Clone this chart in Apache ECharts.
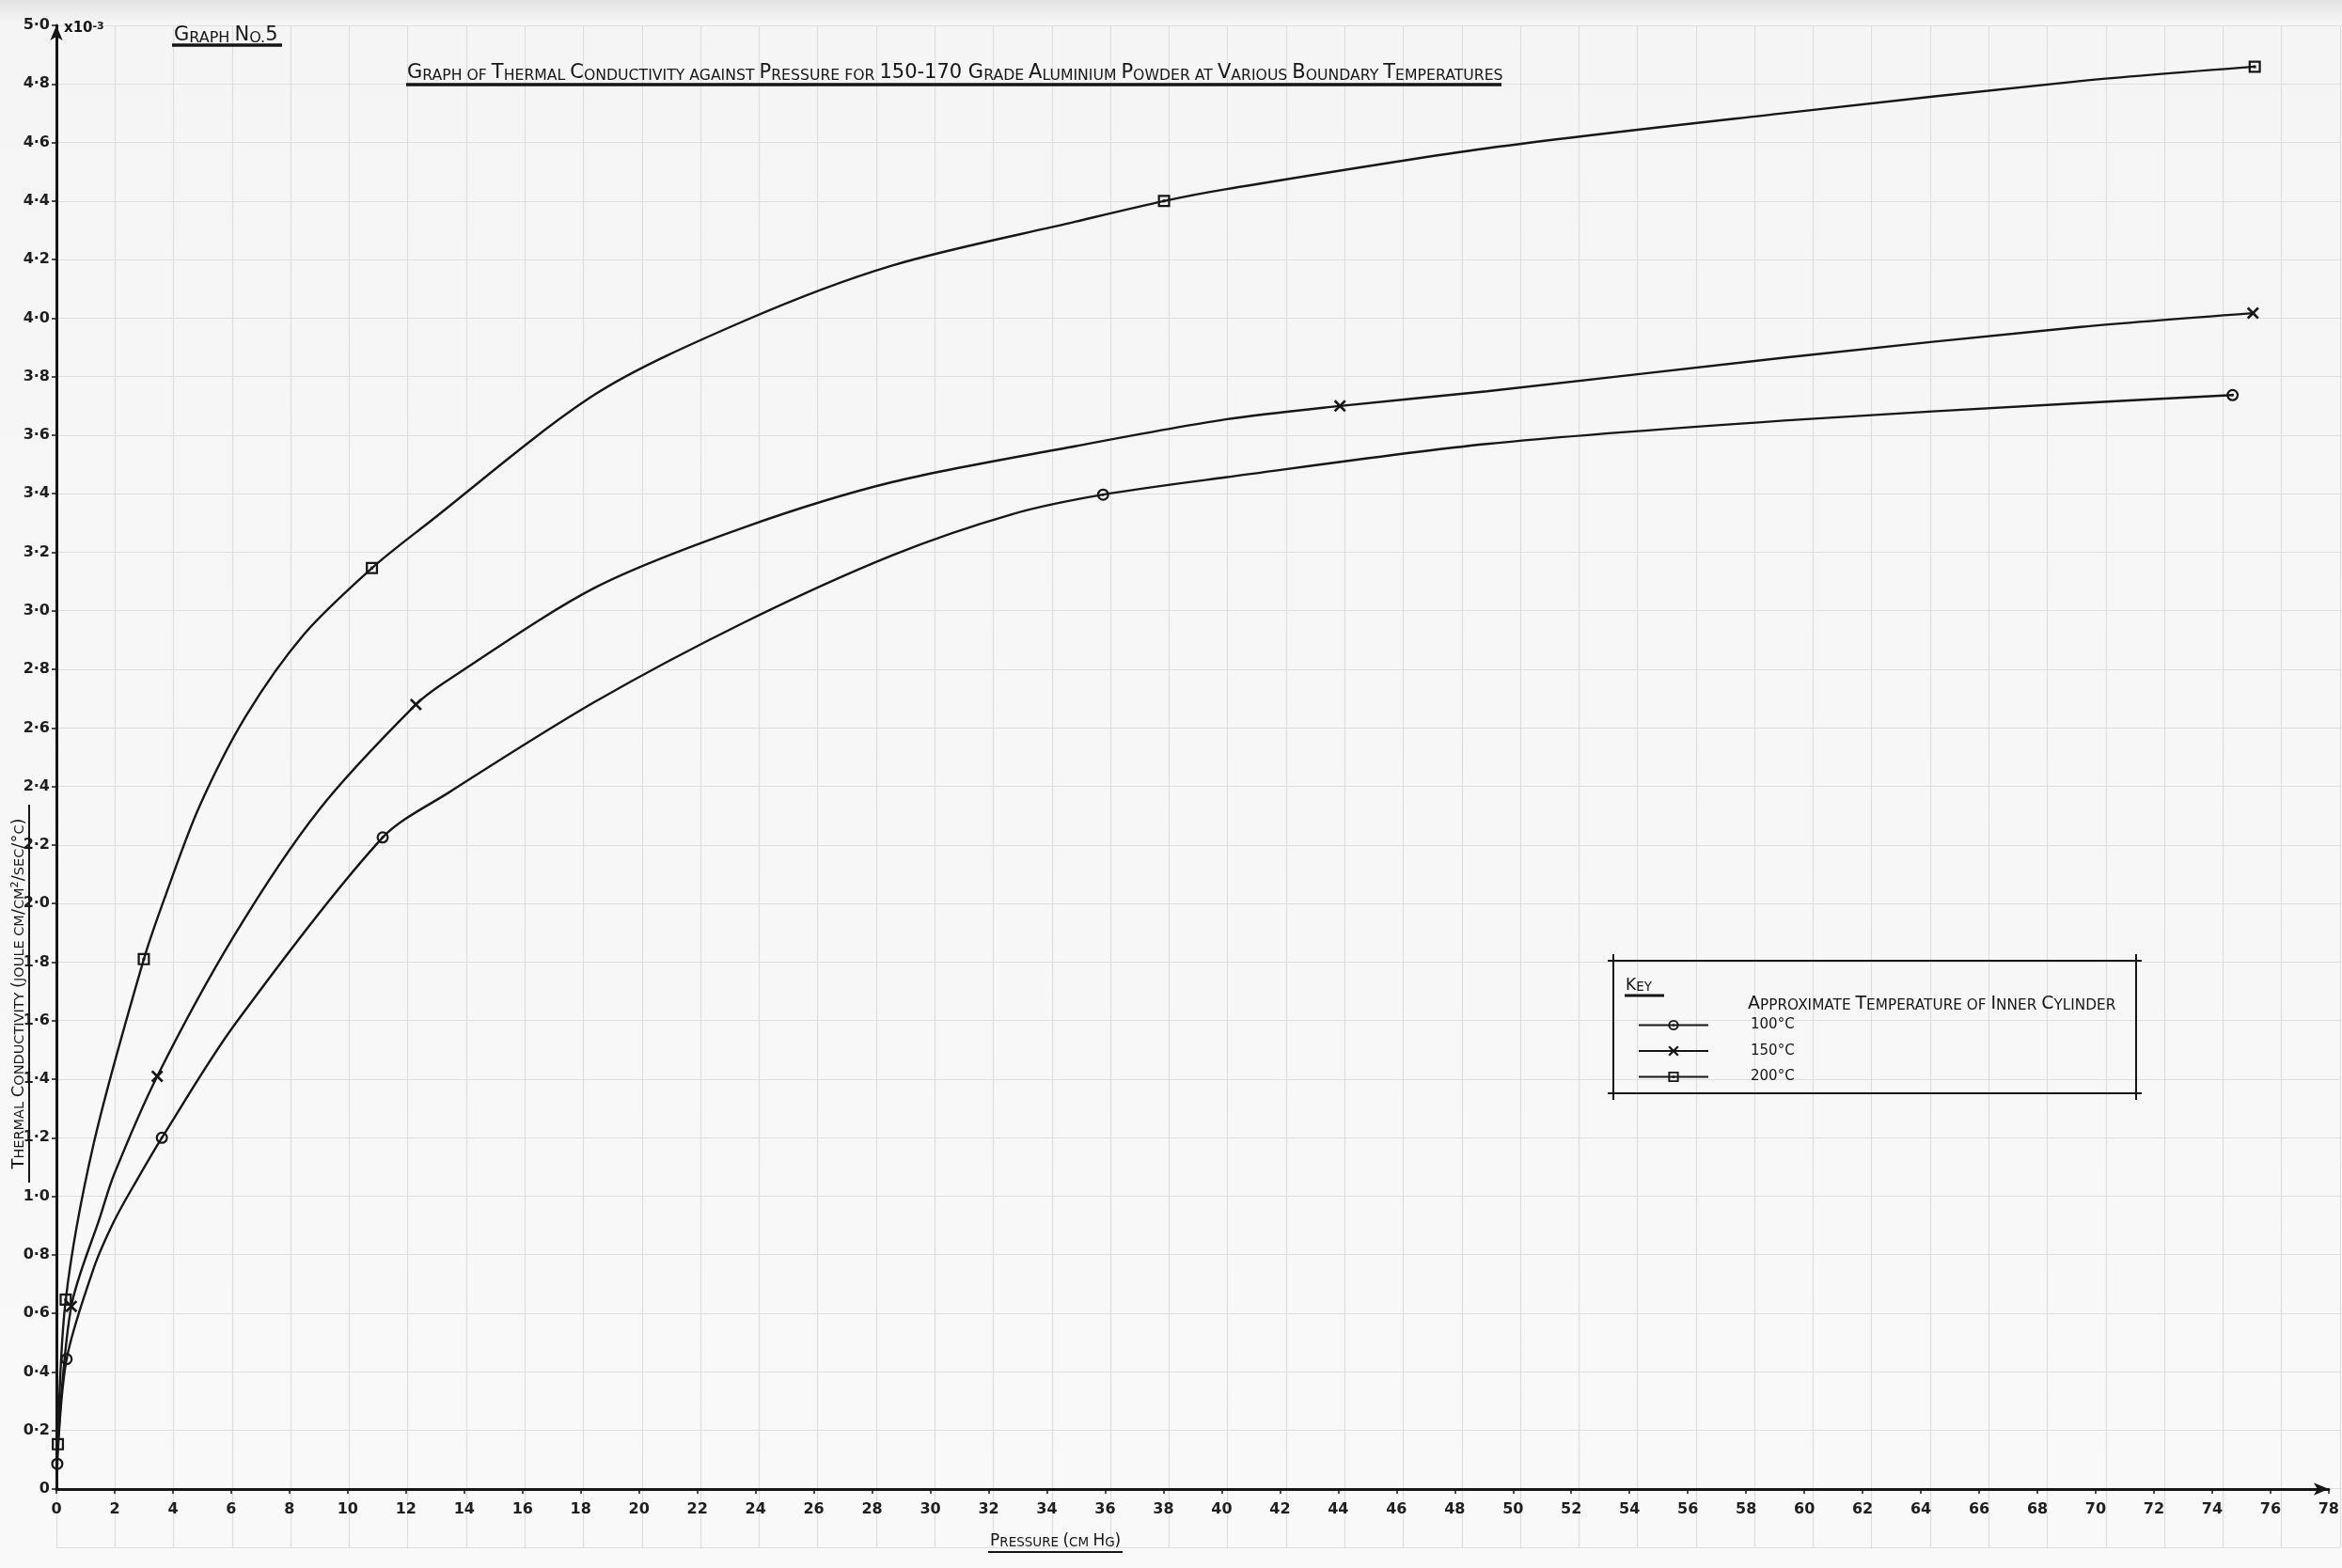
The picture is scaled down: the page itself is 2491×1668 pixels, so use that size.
<!DOCTYPE html>
<html>
<head>
<meta charset="utf-8">
<title>Graph No. 5</title>
<script src="https://cdn.jsdelivr.net/npm/echarts@6/dist/echarts.min.js"></script>
<style>
  html, body { margin: 0; padding: 0; background: #f8f8f8; }
  #chart { width: 2491px; height: 1668px; }
</style>
</head>
<body>
<div id="chart"></div>
<script>
// Thermal conductivity of 150-170 grade aluminium powder against pressure.
// x: pressure (cm Hg); y: conductivity (x10^-3 joule cm/cm^2/sec/°C)

const seriesNames = ['100°C', '150°C', '200°C'];

// Plotted observations (drawn with a marker)
const obs100 = [[0.03, 0.086], [0.35, 0.444], [3.62, 1.20], [11.2, 2.226], [35.93, 3.397], [74.7, 3.737]];
const obs150 = [[0.51, 0.624], [3.46, 1.41], [12.34, 2.68], [44.06, 3.70], [75.4, 4.017]];
const obs200 = [[0.05, 0.153], [0.32, 0.647], [3.0, 1.81], [10.83, 3.146], [38.02, 4.40], [75.46, 4.859]];

// Further points along each faired curve (no marker)
const curve100 = [[1.28, 0.754], [1.98, 0.915], [2.73, 1.05], [6.1, 1.584], [13.48, 2.38], [18.5, 2.69],
                  [23.6, 2.96], [28.7, 3.19], [32.8, 3.33], [40.13, 3.456], [49.1, 3.57], [59.3, 3.65], [69.5, 3.71]];
const curve150 = [[0.04, 0.14], [1.5, 0.93], [1.98, 1.075], [6.1, 1.89], [8.99, 2.317], [13.48, 2.766],
                  [18.5, 3.08], [23.6, 3.285], [28.7, 3.44], [35.0, 3.563], [40.13, 3.654], [49.1, 3.75],
                  [59.3, 3.865], [69.5, 3.97]];
const curve200 = [[1.28, 1.18], [3.79, 2.04], [4.9, 2.33], [6.5, 2.64], [8.5, 2.92], [12.63, 3.29], [18.5, 3.74],
                  [23.6, 3.99], [28.7, 4.18], [35.0, 4.33], [40.13, 4.44], [49.1, 4.58], [59.3, 4.70], [69.5, 4.81]];

// Axis tick labels
const xTickLabels = ['0', '2', '4', '6', '8', '10', '12', '14', '16', '18', '20', '22', '24', '26', '28', '30',
                     '32', '34', '36', '38', '40', '42', '44', '46', '48', '50', '52', '54', '56', '58', '60',
                     '62', '64', '66', '68', '70', '72', '74', '76', '78'];
const yTickLabels = ['0', '0·2', '0·4', '0·6', '0·8', '1·0', '1·2', '1·4', '1·6', '1·8', '2·0', '2·2', '2·4',
                     '2·6', '2·8', '3·0', '3·2', '3·4', '3·6', '3·8', '4·0', '4·2', '4·4', '4·6', '4·8', '5·0'];

// Marker glyphs: dotted circle, cross, dotted square
const SYM_CIRCLE = 'path://M7,0 A7,7 0 1,1 7,14 A7,7 0 1,1 7,0 Z M7,2.4 A4.6,4.6 0 1,0 7,11.6 A4.6,4.6 0 1,0 7,2.4 Z M7,5.4 A1.6,1.6 0 1,1 7,8.6 A1.6,1.6 0 1,1 7,5.4 Z';
const SYM_CROSS = 'path://M0,2 L2,0 L7,5 L12,0 L14,2 L9,7 L14,12 L12,14 L7,9 L2,14 L0,12 L5,7 Z';
const SYM_SQUARE = 'path://M0,0 H14 V14 H0 Z M2.4,2.4 V11.6 H11.6 V2.4 Z M5.4,5.4 H8.6 V8.6 H5.4 Z';

const INK = '#161616';
const FONT = '"DejaVu Sans", "Liberation Sans", sans-serif';

function buildLine(obs, curve) {
  const pts = obs.map(p => ({ value: p }))
    .concat(curve.map(p => ({ value: p, symbol: 'none' })));
  pts.sort((a, b) => a.value[0] - b.value[0]);
  return pts;
}

// Hand-lettered small capitals: capitals and digits large, lower case as small capitals
function smallCaps(str) {
  let out = '', cur = null, buf = '';
  for (const ch of str) {
    const lower = ch !== ch.toUpperCase();
    const st = (ch === ' ' || ch === '.') ? (cur || 'b') : (lower ? 's' : 'b');
    if (st !== cur && buf) { out += '{' + cur + '|' + buf + '}'; buf = ''; }
    cur = st;
    buf += lower ? ch.toUpperCase() : ch;
  }
  if (buf) out += '{' + cur + '|' + buf + '}';
  return out;
}

function capsText(x, y, str, big, small, align, rotation) {
  return {
    type: 'text', x: x, y: y, z: 20, rotation: rotation || 0,
    style: {
      text: smallCaps(str),
      fill: INK,
      align: align || 'left', verticalAlign: 'middle',
      textAlign: align || 'left', textVerticalAlign: 'middle',
      rich: {
        b: { fontSize: big, fontFamily: FONT, fill: INK, color: INK, verticalAlign: 'bottom' },
        s: { fontSize: small, fontFamily: FONT, fill: INK, color: INK, verticalAlign: 'bottom' }
      }
    }
  };
}

function inkLine(x1, y1, x2, y2, w) {
  return { type: 'line', z: 20, shape: { x1: x1, y1: y1, x2: x2, y2: y2 },
           style: { stroke: INK, lineWidth: w || 2 } };
}

const chart = echarts.init(document.getElementById('chart'), null, { renderer: 'canvas' });

const lineCommon = {
  type: 'line', xAxisIndex: 0, yAxisIndex: 0,
  smooth: 0.3,
  symbolSize: 13, showAllSymbol: true,
  lineStyle: { color: INK, width: 2.4 },
  itemStyle: { color: INK },
  emphasis: { disabled: true },
  z: 5
};

const option = {
  animation: false,
  backgroundColor: {
    type: 'linear', x: 0, y: 0, x2: 0, y2: 1,
    colorStops: [
      { offset: 0, color: '#e3e3e3' },
      { offset: 0.015, color: '#f5f5f5' },
      { offset: 1, color: '#f9f9f9' }
    ]
  },
  grid: [
    { left: 60, right: 2, top: 27, bottom: 84 },   // plot
    { left: 60, right: 2, top: 27, bottom: 22 }    // graph-paper ruling
  ],
  xAxis: [
    {
      type: 'value', gridIndex: 0, min: 0, max: 78, interval: 2,
      axisLine: { show: true, onZero: false, symbol: ['none', 'arrow'], symbolSize: [10, 16],
                  lineStyle: { color: INK, width: 3 } },
      axisTick: { show: true, length: 5, lineStyle: { color: INK, width: 1.5 } },
      axisLabel: {
        margin: 14, fontSize: 16, fontWeight: 'bold', fontFamily: FONT, color: '#1e1e1e',
        showMaxLabel: true,
        formatter: v => xTickLabels[Math.round(v / 2)]
      },
      splitLine: { show: false }
    },
    {
      type: 'value', gridIndex: 1, min: 0, max: 78, interval: 2,
      axisLine: { show: false }, axisTick: { show: false }, axisLabel: { show: false },
      splitLine: { show: true, lineStyle: { color: '#dedede', width: 1.2 } }
    }
  ],
  yAxis: [
    {
      type: 'value', gridIndex: 0, min: 0, max: 5, interval: 0.2,
      axisLine: { show: true, onZero: false, symbol: ['none', 'arrow'], symbolSize: [10, 16],
                  lineStyle: { color: INK, width: 3 } },
      axisTick: { show: true, length: 5, lineStyle: { color: INK, width: 1.5 } },
      axisLabel: {
        margin: 7, fontSize: 16, fontWeight: 'bold', fontFamily: FONT, color: '#1e1e1e',
        formatter: v => yTickLabels[Math.round(v / 0.2)]
      },
      splitLine: { show: false }
    },
    {
      type: 'value', gridIndex: 1, min: -0.2, max: 5, interval: 0.2,
      axisLine: { show: false }, axisTick: { show: false }, axisLabel: { show: false },
      splitLine: { show: true, lineStyle: { color: '#dedede', width: 1.2 } }
    }
  ],
  legend: {
    orient: 'vertical', left: 1737, top: 1078,
    itemWidth: 74, itemHeight: 14, itemGap: 12.5,
    selectedMode: false,
    data: seriesNames,
    textStyle: { fontSize: 15, fontFamily: FONT, color: INK, padding: [0, 0, 0, 40] }
  },
  series: [
    Object.assign({}, lineCommon, { name: seriesNames[0], symbol: SYM_CIRCLE, data: buildLine(obs100, curve100) }),
    Object.assign({}, lineCommon, { name: seriesNames[1], symbol: SYM_CROSS, data: buildLine(obs150, curve150) }),
    Object.assign({}, lineCommon, { name: seriesNames[2], symbol: SYM_SQUARE, data: buildLine(obs200, curve200) })
  ],
  graphic: [
    // Sheet heading
    capsText(185, 38, 'Graph No.5', 21, 16),
    inkLine(183, 48, 300, 48, 3.5),
    capsText(433, 78, 'Graph of Thermal Conductivity against Pressure for 150-170 Grade Aluminium Powder at Various Boundary Temperatures', 21, 15.7),
    inkLine(432, 90, 1597, 90, 3.5),

    // Axis titles
    capsText(20, 1057, 'Thermal Conductivity (joule cm/cm²/sec/°c)', 18, 14.5, 'center', Math.PI / 2),
    inkLine(31, 856, 31, 1258, 2),
    capsText(1053, 1640, 'Pressure (cm Hg)', 17, 13.5),
    inkLine(1051, 1651, 1194, 1651, 2),

    // Multiplier beside the top of the ordinate
    {
      type: 'text', x: 68, y: 30, z: 20,
      style: {
        text: '{a|x10}{e|-3}',
        align: 'left', verticalAlign: 'middle', textAlign: 'left', textVerticalAlign: 'middle',
        rich: {
          a: { fontSize: 15, fontWeight: 'bold', fontFamily: FONT, fill: INK, color: INK, verticalAlign: 'bottom' },
          e: { fontSize: 11, fontWeight: 'bold', fontFamily: FONT, fill: INK, color: INK, verticalAlign: 'top' }
        }
      }
    },

    // Key box
    inkLine(1710, 1022, 2278, 1022, 2),
    inkLine(1710, 1163, 2278, 1163, 2),
    inkLine(1716, 1015, 1716, 1170, 2),
    inkLine(2272, 1015, 2272, 1170, 2),
    capsText(1729, 1049, 'Key', 17, 13.5),
    inkLine(1728, 1059, 1770, 1059, 3),
    capsText(1859, 1068, 'Approximate Temperature of Inner Cylinder', 19, 15.3)
  ]
};

chart.setOption(option);
</script>
</body>
</html>
